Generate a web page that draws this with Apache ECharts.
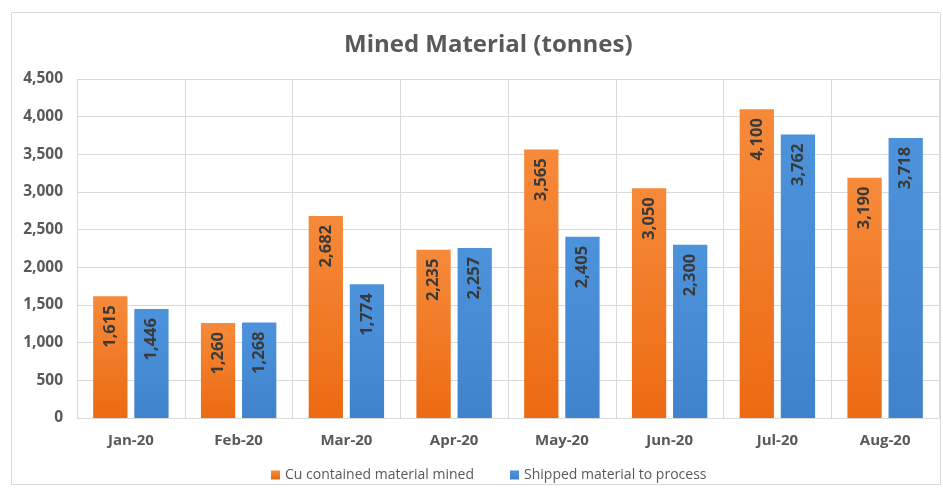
<!DOCTYPE html>
<html>
<head>
<meta charset="utf-8">
<script src="https://cdn.jsdelivr.net/npm/echarts@6/dist/echarts.min.js"></script>
<style>
  html, body { margin: 0; padding: 0; background: #fff; }
  #chart { width: 943px; height: 493px; }
</style>
</head>
<body>
<div id="chart"></div>
<script>
// Monthly mined material, tonnes
const months = ['Jan-20', 'Feb-20', 'Mar-20', 'Apr-20', 'May-20', 'Jun-20', 'Jul-20', 'Aug-20'];
const cuMined = [1615, 1260, 2682, 2235, 3565, 3050, 4100, 3190];
const shipped = [1446, 1268, 1774, 2257, 2405, 2300, 3762, 3718];
const seriesNames = ['Cu contained material mined', 'Shipped material to process'];

const font = '"Open Sans", "Liberation Sans", sans-serif';
const textColor = '#595959';

function grad(top, bottom) {
  return new echarts.graphic.LinearGradient(0, 0, 0, 1, [
    { offset: 0, color: top },
    { offset: 1, color: bottom }
  ]);
}

const barLabel = {
  show: true,
  position: 'insideTop',
  rotate: 90,
  align: 'right',
  verticalAlign: 'middle',
  distance: 9,
  fontFamily: font,
  fontWeight: 'bold',
  fontSize: 16.5,
  color: '#3a3a3a',
  formatter: p => p.value.toLocaleString('en-US')
};

const chart = echarts.init(document.getElementById('chart'), null, { renderer: 'canvas' });
chart.setOption({
  backgroundColor: '#ffffff',
  animation: false,
  title: {
    text: 'Mined Material (tonnes)',
    left: 339,
    top: 28,
    textStyle: { fontFamily: font, fontWeight: 'bold', fontSize: 24, color: textColor }
  },
  graphic: [{
    type: 'rect',
    shape: { x: 11.5, y: 12.5, width: 929, height: 472 },
    style: { fill: 'none', stroke: '#d9d9d9', lineWidth: 1 },
    silent: true,
    z: -1
  }],
  legend: {
    bottom: 6,
    left: 266,
    itemWidth: 9,
    itemHeight: 9,
    itemGap: 36,
    icon: 'rect',
    textStyle: { fontFamily: font, fontSize: 14, color: textColor },
    data: seriesNames
  },
  grid: { left: 77, right: 4, top: 79, bottom: 75 },
  xAxis: {
    type: 'category',
    data: months,
    axisTick: { show: false },
    axisLine: { lineStyle: { color: '#d9d9d9' } },
    splitLine: { show: true, lineStyle: { color: '#d9d9d9' } },
    axisLabel: { margin: 15, fontFamily: font, fontWeight: 'bold', fontSize: 15, color: textColor }
  },
  yAxis: {
    type: 'value',
    min: 0,
    max: 4500,
    interval: 500,
    axisLine: { show: false },
    axisTick: { show: false },
    splitLine: { lineStyle: { color: '#d9d9d9' } },
    axisLabel: {
      margin: 14,
      fontFamily: font, fontWeight: 'bold', fontSize: 15.5, color: textColor,
      formatter: v => v.toLocaleString('en-US')
    }
  },
  series: [
    {
      name: seriesNames[0],
      type: 'bar',
      data: cuMined,
      barGap: '20%',
      barCategoryGap: '30%',
      itemStyle: { color: grad('#f68a3a', '#ec6a12') },
      label: barLabel
    },
    {
      name: seriesNames[1],
      type: 'bar',
      data: shipped,
      itemStyle: { color: grad('#4d93db', '#3f83cc') },
      label: barLabel
    }
  ]
});
</script>
</body>
</html>
